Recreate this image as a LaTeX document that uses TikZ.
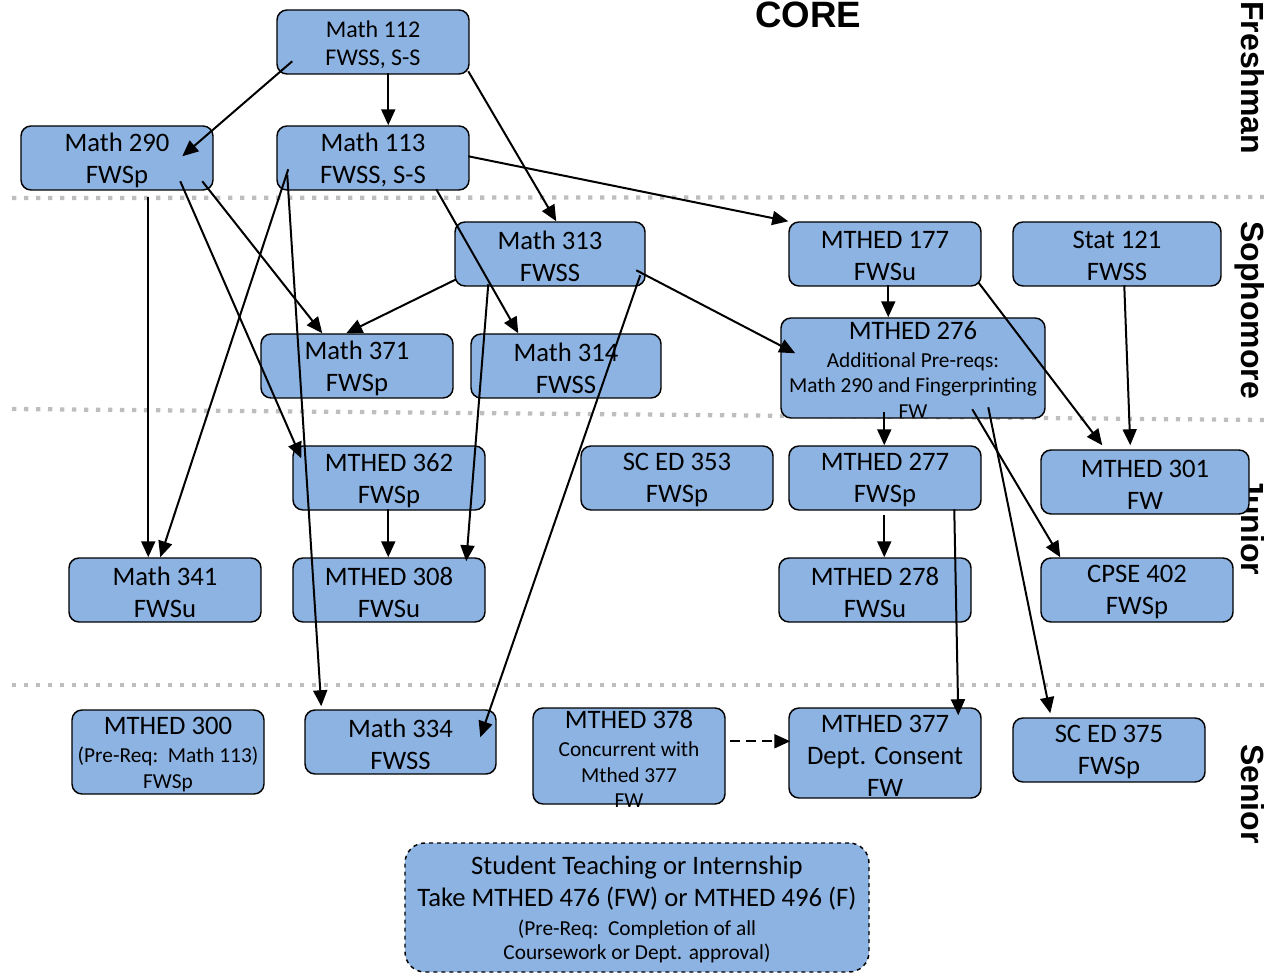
\documentclass[tikz,border=0pt]{standalone}
\usepackage{fontspec}
\setmainfont{Carlito}
\newfontfamily\arialf{Liberation Sans}
\usetikzlibrary{arrows.meta}
\definecolor{boxblue}{HTML}{8DB3E2}
\definecolor{dotgray}{HTML}{BEBEBE}
\newcommand\bigf{\fontsize{20}{24}\selectfont}
\newcommand\midf{\fontsize{18}{21}\selectfont}
\newcommand\smf{\fontsize{16}{19}\selectfont}
\newcommand\crs[7][box]{%
  \node[#1, minimum width={(#5-#3)*0.75pt}, minimum height={(#6-#4)*0.75pt}] (#2) at ({(#3+#5)/2},{(#4+#6)/2}) {};
  \node[txt] (#2t) at ([yshift=-1.8pt]#2.center) {#7};}
\begin{document}
\begin{tikzpicture}[x=0.75pt,y=-0.75pt,
  box/.style={draw=black, line width=1.1pt, fill=boxblue, rounded corners=7.5pt, inner sep=0pt},
  dashbox/.style={box, dashed, rounded corners=15pt},
  txt/.style={align=center, inner sep=0pt, font=\bigf, text=black},
  arr/.style={-{Triangle[length=12pt,width=10.5pt]}, line width=1.5pt},
  darr/.style={arr, dash pattern=on 7pt off 5pt},
  level/.style={dotgray, line width=3.2pt, dash pattern=on 3.2pt off 5.8pt},
  yearlab/.style={font=\arialf\bfseries\fontsize{24}{28}\selectfont, rotate=-90, anchor=base west, inner sep=0pt},
  corelab/.style={font=\arialf\bfseries\fontsize{27.5}{30}\selectfont, inner sep=0pt}]
\useasboundingbox (0,0) rectangle (1264,973);
\clip (0,0) rectangle (1264,973);
% level separators
\draw[level] (12,198) -- (1264,197);
\draw[level] (12,409) -- (1264,420);
\draw[level] (12,685) -- (1264,685);
% labels
\node[corelab] (core) at (808,15) {CORE};
\node[yearlab] (fr) at (1241,1) {Freshman};
\node[yearlab] (so) at (1241,221) {Sophomore};
\node[yearlab] (ju) at (1241,477) {Junior};
\node[yearlab] (se) at (1241,744) {Senior};
% boxes
\crs{m112}{277}{10}{469}{74}{\midf Math 112\\[-3pt]\midf FWSS, S-S}
\crs{m290}{21}{126}{213}{190}{Math 290\\FWSp}
\crs{m113}{277}{126}{469}{190}{Math 113\\FWSS, S-S}
\crs{m313}{455}{222}{645}{286}{Math 313\\FWSS}
\crs{m177}{789}{222}{981}{286}{MTHED 177\\FWSu}
\crs{s121}{1013}{222}{1221}{286}{Stat 121\\FWSS}
\crs{m371}{261}{334}{453}{398}{Math 371\\FWSp}
\crs{m314}{471}{334}{661}{398}{Math 314\\FWSS}
\crs{m276}{781}{318}{1045}{418}{MTHED 276\\[-3pt]\smf Additional Pre-reqs:\\[-5.25pt]\smf Math 290 and Fingerprinting\\[-4.5pt]\smf FW}
\crs{m362}{293}{446}{485}{510}{MTHED 362\\FWSp}
\crs{s353}{581}{446}{773}{510}{SC ED 353\\FWSp}
\crs{m277}{789}{446}{981}{510}{MTHED 277\\FWSp}
\crs{m301}{1041}{450}{1249}{514}{MTHED 301\\FW}
\crs{m341}{69}{558}{261}{622}{Math 341\\FWSu}
\crs{m308}{293}{558}{485}{622}{MTHED 308\\FWSu}
\crs{m278}{779}{558}{971}{622}{MTHED 278\\FWSu}
\crs{c402}{1041}{558}{1233}{622}{CPSE 402\\FWSp}
\crs{m300}{72}{710}{264}{794}{MTHED 300\\[-3pt]\smf (Pre-Req:\ \ Math 113)\\[-4.5pt]\smf FWSp}
\crs{m334}{305}{710}{496}{774}{Math 334\\FWSS}
\crs{m378}{533}{708}{725}{804}{MTHED 378\\[-3pt]\smf Concurrent with\\[-4.5pt]\smf Mthed 377\\[-5.25pt]\smf FW}
\crs{m377}{789}{708}{981}{798}{MTHED 377\\Dept. Consent\\FW}
\crs{s375}{1013}{718}{1205}{782}{SC ED 375\\FWSp}
\crs[dashbox]{st}{405}{843}{869}{972}{Student Teaching or Internship\\Take MTHED 476 (FW) or MTHED 496 (F)\\[-2.25pt]\smf (Pre-Req:\ \ Completion of all\\[-6pt]\smf Coursework or Dept. approval)}
% arrows
\draw[arr] ([shift={(16,52)}]m112.north west) -- ([shift={(162,31)}]m290.north west);
\draw[arr] ([shift={(112,64)}]m112.north west) -- ([shift={(112,0)}]m113.north west);
\draw[arr] ([shift={(192,62)}]m112.north west) -- ([shift={(102,0)}]m313.north west);
\draw[arr] ([shift={(192,31)}]m113.north west) -- ([shift={(0,0)}]m177.north west);
\draw[arr] ([shift={(128,72)}]m290.north west) -- ([shift={(80,0)}]m341.north west);
\draw[arr] ([shift={(160,56)}]m290.north west) -- ([shift={(9,13)}]m362.north west);
\draw[arr] ([shift={(182,56)}]m290.north west) -- ([shift={(62,0)}]m371.north west);
\draw[arr] ([shift={(12,44)}]m113.north west) -- ([shift={(92,0)}]m341.north west);
\draw[arr] ([shift={(11,50)}]m113.north west) -- ([shift={(17,-3)}]m334.north west);
\draw[arr] ([shift={(160,64)}]m113.north west) -- ([shift={(48,0)}]m314.north west);
\draw[arr] ([shift={(2,58)}]m313.north west) -- ([shift={(86,0)}]m371.north west);
\draw[arr] ([shift={(34,63)}]m313.north west) -- ([shift={(174,4)}]m308.north west);
\draw[arr] ([shift={(182,49)}]m313.north west) -- ([shift={(15,36)}]m276.north west);
\draw[arr] ([shift={(186,54)}]m313.north west) -- ([shift={(176,28)}]m334.north west);
\draw[arr] ([shift={(100,64)}]m177.north west) -- ([shift={(108,0)}]m276.north west);
\draw[arr] ([shift={(190,61)}]m177.north west) -- ([shift={(62,-4)}]m301.north west);
\draw[arr] ([shift={(112,64)}]s121.north west) -- ([shift={(90,-4)}]m301.north west);
\draw[arr] ([shift={(104,95)}]m276.north west) -- ([shift={(96,0)}]m277.north west);
\draw[arr] ([shift={(192,92)}]m276.north west) -- ([shift={(20,0)}]c402.north west);
\draw[arr] ([shift={(208,90)}]m276.north west) -- ([shift={(38,-4)}]s375.north west);
\draw[arr] ([shift={(96,64)}]m362.north west) -- ([shift={(96,0)}]m308.north west);
\draw[arr] ([shift={(96,70)}]m277.north west) -- ([shift={(106,0)}]m278.north west);
\draw[arr] ([shift={(166,64)}]m277.north west) -- ([shift={(170,8)}]m377.north west);
\draw[darr] ([shift={(198,34)}]m378.north west) -- ([shift={(2,34)}]m377.north west);
\end{tikzpicture}
\end{document}
